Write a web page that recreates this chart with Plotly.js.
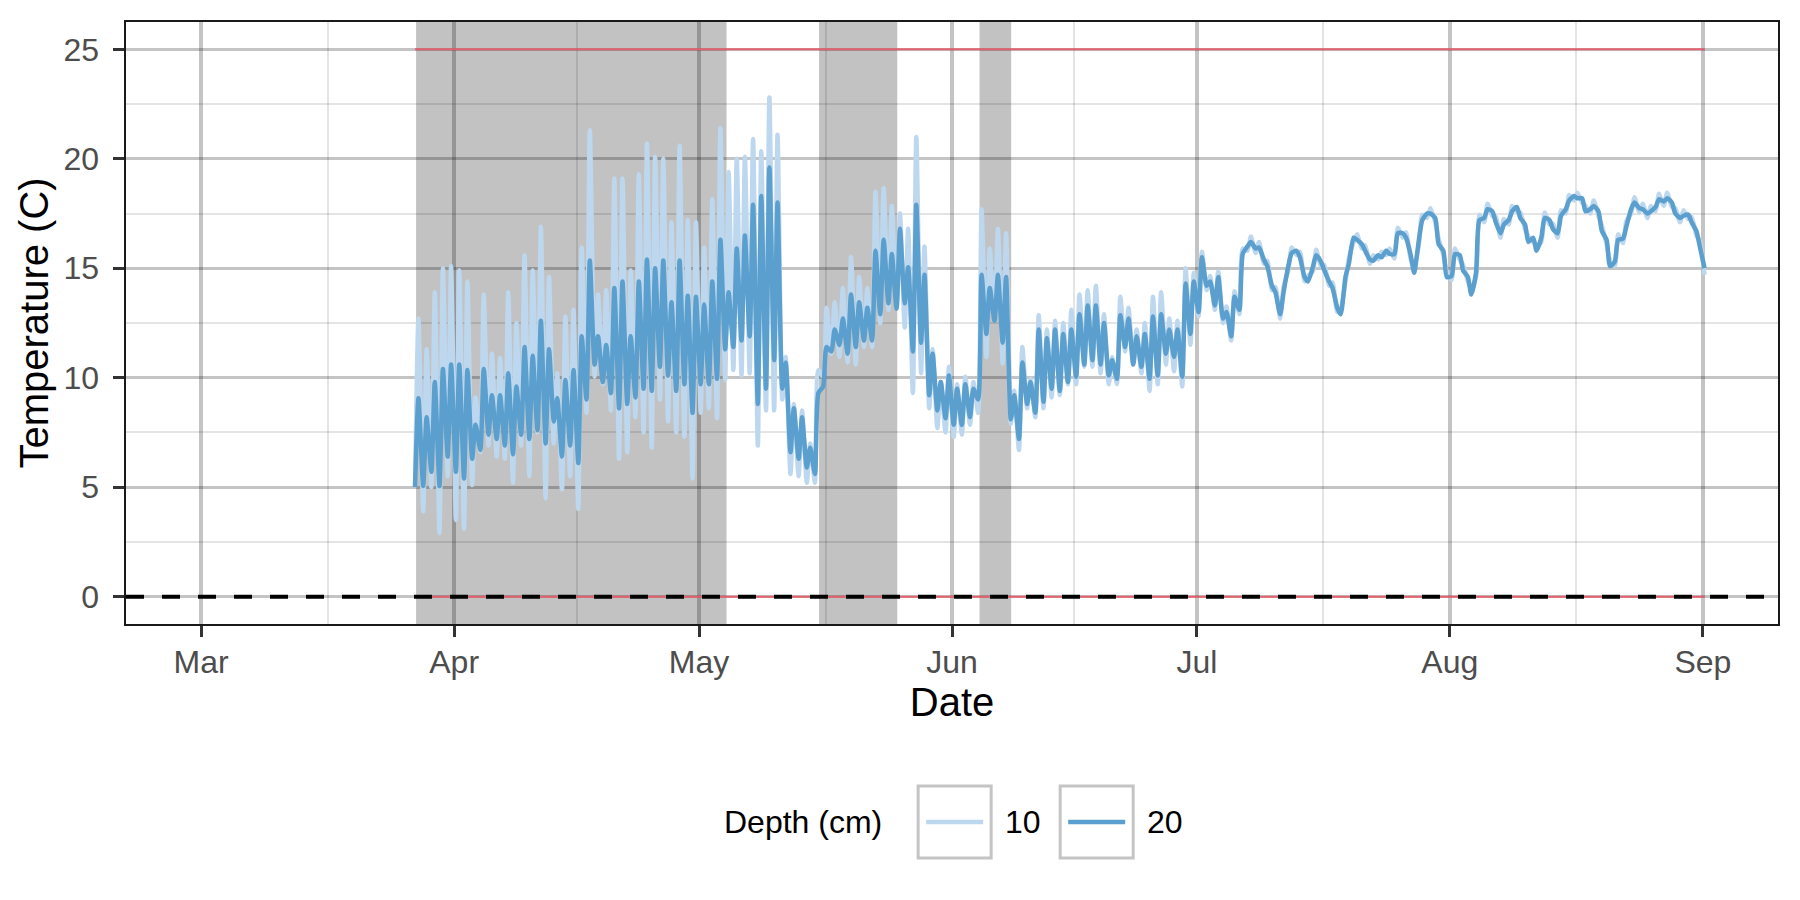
<!DOCTYPE html>
<html>
<head>
<meta charset="utf-8">
<script src="https://cdn.plot.ly/plotly-3.0.1.min.js"></script>
<style>
  html, body { margin: 0; padding: 0; background: #fff; }
  #chart { width: 1800px; height: 900px; }
</style>
</head>
<body>
<div id="chart"></div>
<script>
// first day of record, one morning (am) and one afternoon (pm) reading per day
let firstDay = '2021-03-27';
let amHour = 5;
let pmHour = 15;

// 10 cm depth
let am10 = [5.0,
    3.9, 5.0, 2.9, 5.5, 3.5, 3.1, 5.1, 6.6, 6.9, 6.4, 6.3, 5.2, 6.9, 5.5, 7.5, 4.5, 7.0, 4.9, 5.5, 4.0, 8.4, 10.05, 9.7, 8.5, 6.3, 6.6, 8.2, 7.5, 6.8, 9.0,
    8.0, 7.5, 7.3, 5.4, 8.4, 8.6, 8.15, 9.9, 10.35, 10.1, 10.2, 6.9, 8.5, 8.5, 9.0, 5.6, 5.5, 5.2, 5.2, 10.05, 11.1, 10.95, 10.7, 10.6, 11.4, 11.4, 12.5, 13.1, 13.2, 12.3,
    9.3, 10.2, 8.6, 7.7, 7.5, 7.3, 7.4, 7.85, 8.4, 10.95, 12.6, 10.65, 7.9, 6.7, 8.6, 8.2, 8.6, 9.1, 9.2, 9.7, 9.7, 10.5, 10.5, 10.2, 9.7, 9.7, 11.2, 10.65, 10.2, 9.4, 9.7,
    10.6, 10.3, 9.6, 11.5,
    12.8, 14.0, 13.1, 12.5, 11.7, 12.9, 15.8, 15.7, 15.2, 14.0, 12.7, 14.9, 15.6, 14.4, 14.85, 15.1, 14.2, 13.0, 14.4, 16.2, 15.9, 15.2, 15.4, 15.6, 15.45, 16.4, 15.4, 16.1, 17.3, 17.1, 15.6,
    14.45, 15.4, 14.4, 14.6, 17.1, 17.4, 16.4, 17.0, 17.6, 16.8, 16.2, 16.2, 17.0, 16.4, 17.5, 18.1, 18.0, 17.5, 17.4, 16.1, 15.1, 16.15, 17.5, 17.55, 17.3, 17.6, 17.85, 17.8, 17.1, 17.25, 16.5,
    14.7];
let pm10 = [
    12.7, 11.3, 13.9, 15.0, 15.1, 14.9, 14.4, 9.1, 13.8, 11.1, 10.9, 13.9, 12.5, 15.6, 14.9, 16.9, 14.6, 10.2, 12.8, 13.1, 15.95, 21.3, 13.8, 14.0, 19.1, 19.1, 14.9, 19.3, 20.7, 20.1, 20.0,
    17.1, 20.6, 17.2, 17.1, 15.95, 18.15, 21.4, 19.4, 20.0, 20.1, 20.9, 20.35, 22.8, 21.1, 10.95, 8.8, 8.5, 7.0, 10.35, 13.2, 13.45, 14.1, 15.5, 14.6, 14.1, 18.5, 18.65, 17.85, 17.5, 16.8,
    21.0, 16.0, 11.3, 9.8, 10.5, 9.7, 10.05, 9.8, 17.7, 15.9, 16.8, 16.6, 9.4, 11.4, 9.95, 12.85, 12.2, 12.6, 12.5, 13.1, 13.8, 14.0, 14.2, 12.9, 10.95, 13.7, 13.2, 12.2, 12.5, 13.7, 13.9,
    12.7, 12.6, 15.0, 14.8,
    15.75, 14.65, 14.85, 13.25, 13.95, 15.9, 16.45, 16.2, 15.35, 14.15, 14.15, 15.95, 15.75, 14.65, 15.85, 15.15, 14.35, 13.15, 15.45, 16.55, 16.05, 15.6, 15.75, 15.9, 16.85, 16.65, 15.05, 17.45, 17.75, 16.35, 14.85,
    15.9, 15.15, 14.05, 17.45, 17.95, 17.35, 17.25, 17.85, 17.55, 16.45, 16.05, 17.55, 17.05, 17.65, 18.35, 18.45, 17.85, 18.1, 16.95, 15.35, 16.55, 17.15, 18.25, 17.95, 17.85, 18.4, 18.45, 17.75, 17.65, 17.35, 16.25,
    null];

// 20 cm depth
let am20 = [5.0,
    5.05, 5.7, 5.05, 6.4, 5.7, 5.4, 6.3, 6.7, 7.4, 7.2, 6.9, 6.5, 7.4, 7.2, 7.6, 7.0, 8.0, 6.4, 6.9, 6.1, 9.0, 10.6, 9.8, 9.3, 8.6, 8.8, 9.1, 9.5, 9.4, 10.5,
    10.1, 9.4, 9.7, 8.4, 9.7, 9.7, 9.95, 11.3, 11.4, 11.7, 11.9, 8.8, 9.5, 10.8, 9.5, 6.6, 6.3, 5.9, 5.6, 9.6, 11.2, 11.5, 11.1, 11.4, 11.7, 11.7, 12.9, 13.4, 13.15, 13.4,
    11.2, 11.6, 9.2, 8.5, 8.15, 7.85, 7.85, 8.2, 9.0, 12.0, 12.6, 11.6, 8.1, 7.2, 8.8, 8.4, 8.9, 9.5, 9.4, 9.8, 10.05, 10.6, 10.8, 10.6, 10.1, 9.95, 11.4, 10.6, 10.5, 9.95, 10.1,
    11.1, 10.95, 10.05, 12.0,
    13.0, 14.2, 13.3, 12.7, 11.9, 13.1, 16.0, 15.9, 15.4, 14.2, 12.9, 15.1, 15.8, 14.6, 15.05, 15.3, 14.4, 13.2, 14.6, 16.4, 16.1, 15.4, 15.6, 15.8, 15.65, 16.6, 15.6, 16.3, 17.5, 17.3, 15.8,
    14.65, 15.6, 14.6, 14.8, 17.3, 17.6, 16.6, 17.2, 17.8, 17.0, 16.4, 16.4, 17.2, 16.6, 17.7, 18.3, 18.2, 17.7, 17.6, 16.3, 15.3, 16.35, 17.7, 17.75, 17.5, 17.8, 18.05, 18.0, 17.3, 17.45, 16.7,
    15.0];
let pm20 = [
    9.06, 8.2, 9.8, 10.4, 10.6, 10.6, 10.35, 7.85, 10.4, 9.2, 9.2, 10.2, 9.6, 11.4, 11.0, 12.6, 11.3, 9.06, 9.9, 10.35, 11.9, 15.35, 11.9, 11.5, 14.1, 14.4, 11.9, 14.4, 15.4, 15.0, 15.35,
    13.45, 15.35, 13.75, 13.7, 13.35, 14.4, 16.3, 13.9, 15.9, 16.5, 17.9, 18.3, 19.6, 18.0, 10.7, 8.6, 8.2, 6.8, 9.3, 11.4, 12.2, 12.7, 13.8, 13.45, 13.2, 15.8, 16.3, 15.65, 16.8, 15.05,
    17.9, 14.7, 11.1, 9.8, 10.1, 9.5, 9.7, 9.5, 14.7, 14.1, 14.7, 14.6, 9.2, 10.7, 9.8, 12.2, 11.8, 12.2, 12.0, 12.2, 12.9, 13.3, 13.3, 12.5, 10.8, 12.85, 12.7, 11.9, 12.0, 12.8, 12.9,
    12.2, 12.2, 14.3, 14.4,
    15.5, 14.4, 14.6, 13.0, 13.7, 15.65, 16.2, 15.95, 15.1, 13.9, 13.9, 15.7, 15.5, 14.4, 15.6, 14.9, 14.1, 12.9, 15.2, 16.3, 15.8, 15.35, 15.5, 15.65, 16.6, 16.4, 14.8, 17.2, 17.5, 16.1, 14.6,
    15.65, 14.9, 13.8, 17.2, 17.7, 17.1, 17.0, 17.6, 17.3, 16.2, 15.8, 17.3, 16.8, 17.4, 18.1, 18.2, 17.6, 17.85, 16.7, 15.1, 16.3, 16.9, 18.0, 17.7, 17.6, 18.15, 18.2, 17.5, 17.4, 17.1, 16.0,
    null];

let depths = ['10', '20'];
let depthColors = ['#BDD7EE', '#5A9FCE'];

// thresholds drawn over the logging period
let thresholds = [25, 0];

// shaded periods
let shadeStart = ['2021-03-27 08:00', '2021-05-15 17:00', '2021-06-04 09:00'];
let shadeEnd = ['2021-05-04 09:00', '2021-05-25 07:00', '2021-06-08 06:00'];

// axes
let monthTicks = ['2021-03-01', '2021-04-01', '2021-05-01', '2021-06-01', '2021-07-01', '2021-08-01', '2021-09-01'];
let monthLabels = ['Mar', 'Apr', 'May', 'Jun', 'Jul', 'Aug', 'Sep'];
let monthMinor = ['2021-03-16 12:00', '2021-04-16', '2021-05-16 12:00', '2021-06-16', '2021-07-16 12:00', '2021-08-16 12:00'];
let xRange = ['2021-02-19 19:00', '2021-09-10 05:00'];
let yRange = [-1.25, 26.25];

function stamp(dayIndex, hour) {
    let d = new Date(firstDay + 'T00:00:00Z');
    d.setUTCDate(d.getUTCDate() + dayIndex);
    d.setUTCHours(hour);
    return d.toISOString().slice(0, 16).replace('T', ' ');
}

function buildSeries(am, pm) {
    let x = [], y = [];
    for (let i = 0; i < am.length; i++) {
        if (am[i] !== null) { x.push(stamp(i, amHour)); y.push(am[i]); }
        if (pm[i] !== null) { x.push(stamp(i, pmHour)); y.push(pm[i]); }
    }
    return {x: x, y: y};
}

let s10 = buildSeries(am10, pm10);
let s20 = buildSeries(am20, pm20);
let seriesList = [s10, s20];

let traces = [];
for (let i = 0; i < seriesList.length; i++) {
    traces.push({
        x: seriesList[i].x,
        y: seriesList[i].y,
        name: depths[i],
        type: 'scatter',
        mode: 'lines',
        line: {color: depthColors[i], width: 4.5, shape: 'spline', smoothing: 0.6},
        hoverinfo: 'skip'
    });
}

let tStart = s20.x[0];
let tEnd = s20.x[s20.x.length - 1];
thresholds.forEach(function (v) {
    traces.push({
        x: [tStart, tEnd],
        y: [v, v],
        type: 'scatter',
        mode: 'lines',
        line: {color: '#E4606C', width: 2},
        hoverinfo: 'skip'
    });
});

// panel pixel box, used for the hand made legend
let box = {l: 126, r: 1777.7, t: 21.7, b: 624};
function xp(px) { return (px - box.l) / (box.r - box.l); }
function yp(py) { return (box.b - py) / (box.b - box.t); }

let shapes = [];
for (let i = 0; i < shadeStart.length; i++) {
    shapes.push({
        type: 'rect', xref: 'x', yref: 'paper',
        x0: shadeStart[i], x1: shadeEnd[i], y0: 0, y1: 1,
        fillcolor: 'rgba(0,0,0,0.24)', line: {width: 0}, layer: 'between'
    });
}
// dashed zero line across the whole panel
shapes.push({
    type: 'line', xref: 'paper', yref: 'y', x0: 0, x1: 1, y0: 0, y1: 0,
    line: {color: '#000', width: 4, dash: '18px,18px'}, layer: 'above'
});

let font = 'Liberation Sans, Arial, sans-serif';
let annotations = [{
    text: 'Depth (cm)', xref: 'paper', yref: 'paper', x: xp(884), y: yp(822),
    xanchor: 'right', yanchor: 'middle', showarrow: false,
    font: {family: font, size: 32, color: '#000'}
}];

// legend keys
let keyLeft = [918, 1060];
for (let i = 0; i < depths.length; i++) {
    shapes.push({
        type: 'rect', xref: 'paper', yref: 'paper',
        x0: xp(keyLeft[i]), x1: xp(keyLeft[i] + 73), y0: yp(786), y1: yp(858),
        fillcolor: '#fff', line: {color: '#C4C4C4', width: 3}
    });
    shapes.push({
        type: 'line', xref: 'paper', yref: 'paper',
        x0: xp(keyLeft[i] + 8), x1: xp(keyLeft[i] + 65), y0: yp(822), y1: yp(822),
        line: {color: depthColors[i], width: 4.5}
    });
    annotations.push({
        text: depths[i], xref: 'paper', yref: 'paper', x: xp(keyLeft[i] + 85), y: yp(822),
        xanchor: 'left', yanchor: 'middle', showarrow: false,
        font: {family: font, size: 32, color: '#000'}
    });
}

// grid lines are see-through so they darken inside the shaded periods
let gridMajor = 'rgba(0,0,0,0.23)';
let gridMinor = 'rgba(0,0,0,0.105)';

let layout = {
    width: 1800,
    height: 900,
    margin: {l: box.l, r: 1800 - box.r, t: box.t, b: 900 - box.b},
    paper_bgcolor: '#fff',
    plot_bgcolor: '#fff',
    showlegend: false,
    font: {family: font},
    xaxis: {
        type: 'date',
        range: xRange,
        tickmode: 'array',
        tickvals: monthTicks,
        ticktext: monthLabels,
        ticks: 'outside', ticklen: 11, tickwidth: 3, tickcolor: '#333',
        ticklabelstandoff: -2,
        tickfont: {family: font, size: 32, color: '#4D4D4D'},
        showgrid: true, gridcolor: gridMajor, gridwidth: 3.5,
        minor: {tickmode: 'array', tickvals: monthMinor, showgrid: true, gridcolor: gridMinor, gridwidth: 2, ticks: ''},
        showline: true, linecolor: '#1a1a1a', linewidth: 1.6, mirror: true,
        zeroline: false,
        title: {text: 'Date', font: {family: font, size: 40, color: '#000'}, standoff: 8}
    },
    yaxis: {
        range: yRange,
        tickmode: 'linear', tick0: 0, dtick: 5,
        ticks: 'outside', ticklen: 11, tickwidth: 3, tickcolor: '#333',
        ticklabelstandoff: 8,
        tickfont: {family: font, size: 32, color: '#4D4D4D'},
        showgrid: true, gridcolor: gridMajor, gridwidth: 3,
        minor: {tick0: 0, dtick: 2.5, showgrid: true, gridcolor: gridMinor, gridwidth: 2, ticks: ''},
        showline: true, linecolor: '#1a1a1a', linewidth: 1.6, mirror: true,
        zeroline: false,
        title: {text: 'Temperature (C)', font: {family: font, size: 40, color: '#000'}, standoff: 2}
    },
    shapes: shapes,
    annotations: annotations
};

Plotly.newPlot('chart', traces, layout, {displayModeBar: false, staticPlot: true});
</script>
</body>
</html>
